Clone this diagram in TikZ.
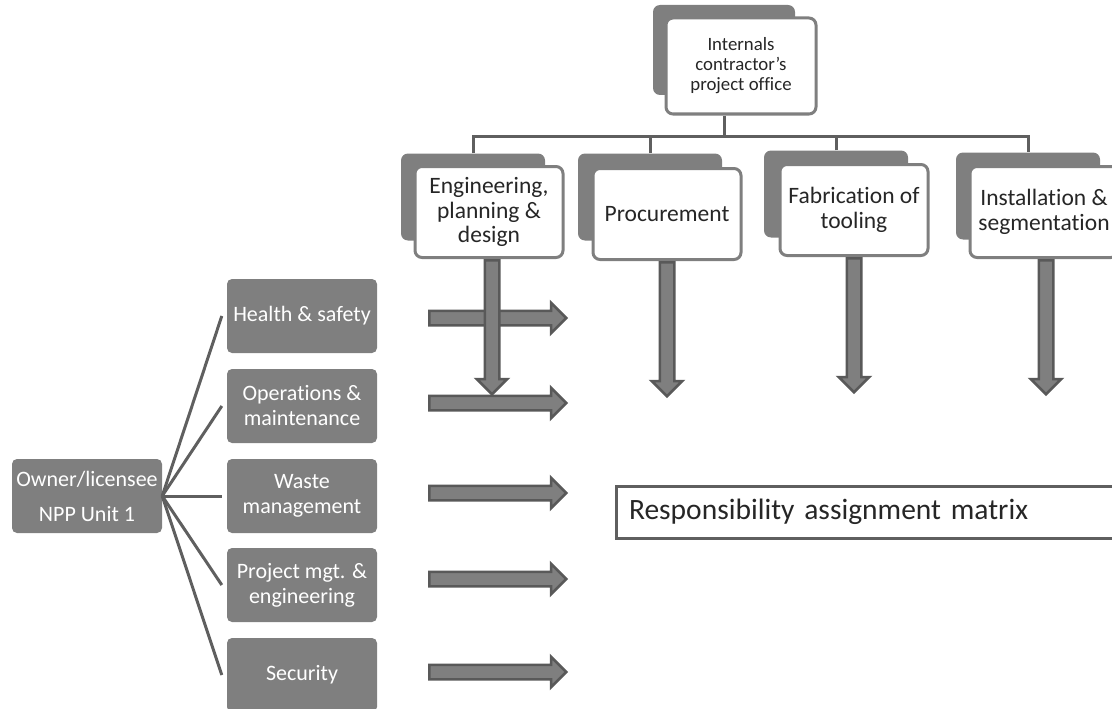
\documentclass[tikz,border=0pt]{standalone}
\usepackage{fontspec}
\setmainfont{Carlito}[Ligatures={NoCommon}]
\usetikzlibrary{shapes.arrows}

\definecolor{boxgray}{HTML}{7F7F7F}
\definecolor{linegray}{HTML}{5F5F5F}
\definecolor{arrowedge}{HTML}{595959}
\definecolor{textdark}{HTML}{262626}

\tikzset{
  backcard/.style={fill=boxgray, rounded corners=7pt, minimum width=144pt,
    minimum height=87pt, inner sep=0pt},
  frontcard/.style={fill=white, draw=boxgray, line width=3pt, rounded corners=7pt,
    minimum width=148pt, minimum height=91pt, align=center, text=textdark,
    font=\fontsize{23.5}{24.5}\selectfont, inner sep=2pt},
  unitbox/.style={fill=boxgray, rounded corners=5pt, minimum width=150pt,
    minimum height=74pt, text=white, align=center, inner sep=2pt,
    font=\fontsize{22}{25}\selectfont},
  fanline/.style={draw=linegray, line width=3pt},
  busline/.style={draw=linegray, line width=3pt},
  blockarrow/.style={single arrow, fill=boxgray, draw=arrowedge, line width=2.5pt,
    single arrow head extend=8pt, single arrow head indent=0pt},
  hzarrow/.style={blockarrow, inner xsep=0pt, inner ysep=6pt,
    minimum height=137pt, anchor=tail},
  vtarrow/.style={blockarrow, inner xsep=6pt, inner ysep=0pt,
    minimum height=134pt, anchor=tail, shape border rotate=270},
}

\begin{document}
\begin{tikzpicture}[x=1pt, y=-1pt]
  \useasboundingbox (0,0) rectangle (1112,709);
  \clip (0,0) rectangle (1112,709);

  % contractor side: project office and its four work packages
  \node[backcard, minimum width=142pt, minimum height=90pt] (topb) at (724,50) {};
  \node[frontcard, minimum width=150pt, minimum height=96pt,
        font=\fontsize{18.8}{20}\selectfont] (top) at (741,66)
        {Internals\\contractor’s\\project office};

  \node[backcard] (engb)  at (473,197) {};
  \node[backcard] (procb) at (650,197) {};
  \node[backcard] (fabb)  at (836,194) {};
  \node[backcard] (instb) at (1028,196) {};

  \node[frontcard] (eng)  at (489,212) {Engineering,\\planning \&\\design};
  \node[frontcard] (proc) at (667,214) {Procurement};
  \node[frontcard] (fab)  at (854,210) {Fabrication of\\tooling};
  \node[frontcard] (inst) at (1044,212) {Installation \&\\segmentation};

  % org-chart bus
  \coordinate (hub) at (724,136);
  \draw[busline] (top.south -| hub) -- (hub);
  \draw[busline] (engb.north) |- (hub) -| (instb.north);
  \draw[busline] (procb.north) -- (procb.north |- hub);
  \draw[busline] (fabb.north) -- (fabb.north |- hub);

  % owner side
  \node[unitbox] (owner) at (87,496) {Owner/licensee\\[10pt]NPP Unit 1};
  \node[unitbox] (hs)    at (302,316) {Health \& safety};
  \node[unitbox] (ops)   at (302,406) {Operations \&\\maintenance};
  \node[unitbox] (waste) at (302,496) {Waste\\management};
  \node[unitbox] (pm)    at (302,585) {Project mgt. \&\\engineering};
  \node[unitbox] (sec)   at (302,675) {Security};

  \foreach \u in {hs,ops,waste,pm,sec}
    \draw[fanline] (owner.east) -- ([xshift=-5pt]\u.west);

  % responsibilities flowing into the matrix
  \node[hzarrow] (a1) at (428,318) {};
  \node[hzarrow] (a2) at (428,403) {};
  \node[hzarrow] (a3) at (428,493) {};
  \node[hzarrow] (a4) at (428,579) {};
  \node[hzarrow] (a5) at (428,672) {};

  \node[vtarrow] (d1) at ([xshift=3pt]eng.south) {};
  \node[vtarrow] (d2) at (proc.south) {};
  \node[vtarrow] (d3) at (fab.south) {};
  \node[vtarrow] (d4) at ([xshift=2pt]inst.south) {};

  \node[draw=linegray, line width=3pt, anchor=north west, inner xsep=13pt,
        text width=494pt, align=left, minimum height=52pt, text=textdark,
        font=\fontsize{29.5}{31}\selectfont] (ram) at (614.5,484.5)
        {Responsibility assignment matrix};
\end{tikzpicture}
\end{document}
